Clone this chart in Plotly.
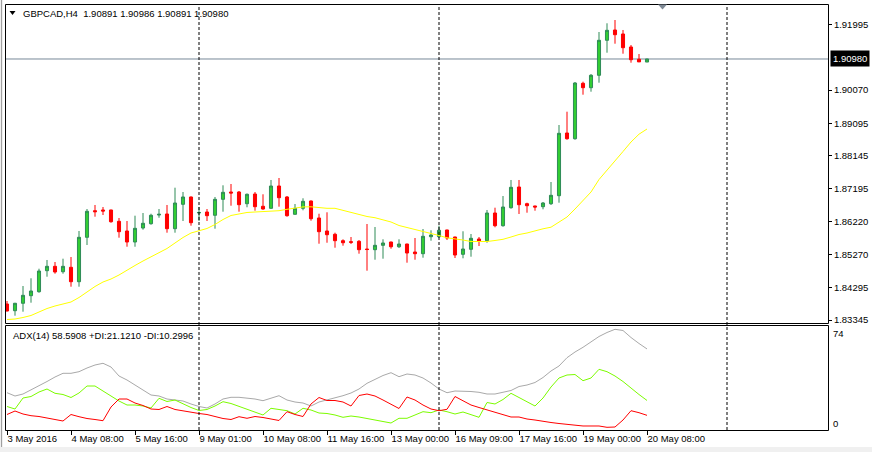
import plotly.graph_objects as go

W, H = 872, 452

# ---------------- data ----------------
tick_labels = ["3 May 2016", "4 May 08:00", "5 May 16:00", "9 May 01:00", "10 May 08:00",
               "11 May 16:00", "13 May 00:00", "16 May 09:00", "17 May 16:00",
               "19 May 00:00", "20 May 08:00"]
tick_bars = [0, 8, 16, 24, 32, 40, 48, 56, 64, 72, 80]
separator_bars = [24, 54, 90]

opens = [1.83816, 1.83620, 1.83837, 1.84059, 1.84176, 1.84790, 1.84918, 1.84760, 1.84889, 1.84468,
         1.85766, 1.86544, 1.86565, 1.86565, 1.86234, 1.85951, 1.85629, 1.86038, 1.86164, 1.86418,
         1.86448, 1.86018, 1.86731, 1.86945, 1.86477, 1.86506, 1.86410, 1.86877, 1.87091, 1.87091,
         1.86749, 1.87032, 1.86673, 1.86614, 1.87266, 1.86945, 1.86439, 1.86614, 1.86828, 1.86331,
         1.85951, 1.85854, 1.85667, 1.85638, 1.85649, 1.85424, 1.85404, 1.85532, 1.85629, 1.85491,
         1.85570, 1.85336, 1.85287, 1.85784, 1.85784, 1.85980, 1.85775, 1.85269, 1.85416, 1.85717,
         1.85667, 1.86477, 1.86106, 1.86632, 1.87237, 1.86749, 1.86682, 1.86661, 1.86749, 1.86983,
         1.88816, 1.88649, 1.90269, 1.90141, 1.90503, 1.91527, 1.91828, 1.91711, 1.91331, 1.90971,
         1.90891]
highs = [1.83904, 1.83850, 1.84342, 1.84568, 1.84848, 1.85103, 1.85044, 1.85141, 1.85190, 1.85951,
         1.86594, 1.86711, 1.86652, 1.86573, 1.86331, 1.86243, 1.86398, 1.86477, 1.86456, 1.86594,
         1.86711, 1.87217, 1.87091, 1.86959, 1.86652, 1.86594, 1.86945, 1.87287, 1.87325, 1.87120,
         1.87047, 1.87091, 1.87024, 1.87442, 1.87500, 1.86974, 1.86740, 1.86907, 1.86842, 1.86456,
         1.86497, 1.85901, 1.85708, 1.85775, 1.85687, 1.86155, 1.86068, 1.85708, 1.85638, 1.85708,
         1.85579, 1.85746, 1.86009, 1.85971, 1.86106, 1.85989, 1.85784, 1.85942, 1.85863, 1.85775,
         1.86565, 1.86632, 1.86974, 1.87442, 1.87442, 1.86778, 1.86690, 1.86799, 1.87383, 1.89050,
         1.89439, 1.90307, 1.90316, 1.90541, 1.91769, 1.92024, 1.92120, 1.91828, 1.91389, 1.91126,
         1.90986]
lows = [1.83600, 1.83474, 1.83591, 1.83854, 1.84146, 1.84614, 1.84702, 1.84702, 1.84322, 1.84322,
        1.85541, 1.86369, 1.86418, 1.86193, 1.85755, 1.85491, 1.85491, 1.85989, 1.86135, 1.86339,
        1.85901, 1.85901, 1.86243, 1.86106, 1.86243, 1.86243, 1.86018, 1.86515, 1.86690, 1.86515,
        1.86644, 1.86544, 1.86573, 1.86603, 1.86661, 1.86369, 1.86427, 1.86556, 1.86252, 1.85579,
        1.85608, 1.85462, 1.85521, 1.85570, 1.85287, 1.84790, 1.85111, 1.85141, 1.85433, 1.85453,
        1.85024, 1.85111, 1.85170, 1.85667, 1.85746, 1.85687, 1.85161, 1.85152, 1.85199, 1.85512,
        1.85608, 1.86059, 1.86076, 1.86603, 1.86448, 1.86486, 1.86544, 1.86585, 1.86711, 1.86778,
        1.88620, 1.88620, 1.89936, 1.90024, 1.90287, 1.91164, 1.91427, 1.91135, 1.90872, 1.90895,
        1.90891]
closes = [1.83611, 1.83837, 1.84070, 1.84196, 1.84781, 1.84918, 1.84752, 1.84918, 1.84468, 1.85766,
          1.86527, 1.86515, 1.86535, 1.86222, 1.85930, 1.85629, 1.86029, 1.86176, 1.86410, 1.86439,
          1.86018, 1.86769, 1.86945, 1.86193, 1.86492, 1.86398, 1.86877, 1.87082, 1.87062, 1.86720,
          1.87024, 1.86661, 1.86594, 1.87266, 1.86924, 1.86398, 1.86614, 1.86819, 1.86310, 1.85930,
          1.85842, 1.85667, 1.85608, 1.85620, 1.85404, 1.85409, 1.85532, 1.85600, 1.85491, 1.85570,
          1.85307, 1.85287, 1.85796, 1.85834, 1.85971, 1.85746, 1.85249, 1.85424, 1.85737, 1.85658,
          1.86477, 1.86106, 1.86652, 1.87228, 1.86720, 1.86690, 1.86652, 1.86769, 1.86994, 1.88807,
          1.88649, 1.90278, 1.90141, 1.90503, 1.91527, 1.91819, 1.91690, 1.91310, 1.90959, 1.90895,
          1.90980]
moving_avg = [1.83363, 1.83377, 1.83421, 1.83480, 1.83582, 1.83684, 1.83758, 1.83816, 1.83875, 1.84006,
              1.84167, 1.84328, 1.84459, 1.84547, 1.84664, 1.84810, 1.84942, 1.85073, 1.85190, 1.85322,
              1.85439, 1.85600, 1.85760, 1.85892, 1.85951, 1.86024, 1.86141, 1.86287, 1.86404, 1.86448,
              1.86492, 1.86506, 1.86515, 1.86521, 1.86544, 1.86585, 1.86623, 1.86655, 1.86658, 1.86632,
              1.86614, 1.86614, 1.86550, 1.86506, 1.86433, 1.86375, 1.86339, 1.86287, 1.86214, 1.86111,
              1.86053, 1.86009, 1.85936, 1.85892, 1.85819, 1.85752, 1.85725, 1.85687, 1.85643, 1.85638,
              1.85643, 1.85673, 1.85708, 1.85775, 1.85848, 1.85892, 1.85965, 1.86015, 1.86062, 1.86208,
              1.86360, 1.86594, 1.86857, 1.87091, 1.87456, 1.87720, 1.87997, 1.88275, 1.88553, 1.88781,
              1.88933]
adx = [26.76, 24.36, 25.82, 28.73, 31.64, 34.91, 38.18, 40.87, 40.87, 42.04,
       44.73, 46.91, 48.15, 45.45, 38.91, 36.00, 32.36, 28.73, 25.09, 24.36,
       22.18, 21.45, 20.73, 18.55, 16.73, 15.64, 18.55, 22.18, 23.42, 23.42,
       22.91, 22.18, 20.95, 22.91, 24.58, 21.45, 20.00, 19.27, 17.09, 20.00,
       21.45, 22.91, 24.58, 26.55, 29.45, 33.60, 36.73, 39.27, 41.31, 38.40,
       40.36, 39.64, 37.45, 33.82, 29.45, 26.76, 28.00, 28.00, 27.64, 27.05,
       25.82, 25.82, 26.91, 28.36, 31.27, 32.36, 34.18, 37.82, 42.55, 46.18,
       52.22, 56.36, 59.78, 63.85, 67.64, 70.55, 72.87, 72.00, 66.91, 62.55,
       58.59]
plus_di = [16.73, 14.91, 22.91, 24.00, 27.27, 29.45, 26.33, 25.45, 23.27, 26.55,
           31.64, 31.64, 28.00, 24.36, 20.73, 17.82, 17.82, 17.09, 15.64, 22.69,
           20.36, 21.45, 18.55, 16.00, 13.82, 14.55, 17.09, 20.22, 18.91, 16.73,
           14.69, 12.73, 10.55, 15.42, 14.55, 13.67, 11.27, 15.42, 14.18, 12.00,
           11.64, 10.55, 8.87, 9.82, 9.09, 8.00, 6.91, 5.82, 4.73, 8.15,
           8.15, 10.55, 12.95, 12.22, 14.18, 12.95, 11.27, 12.73, 11.05, 8.87,
           19.64, 18.55, 21.82, 26.33, 23.27, 20.22, 17.09, 22.91, 30.91, 37.45,
           39.64, 40.00, 35.49, 37.45, 43.78, 42.04, 38.91, 34.91, 29.96, 25.45,
           21.12]
minus_di = [10.91, 13.45, 11.27, 10.04, 9.45, 8.15, 7.27, 6.18, 10.91, 9.31,
            8.00, 7.27, 6.40, 16.36, 22.18, 22.18, 19.27, 17.45, 14.91, 14.55,
            16.73, 14.55, 13.45, 12.36, 11.64, 10.91, 9.45, 8.00, 7.27, 9.31,
            8.15, 9.45, 8.73, 7.64, 6.55, 12.95, 10.91, 9.45, 18.55, 23.27,
            21.09, 21.09, 20.00, 17.09, 24.73, 25.82, 24.36, 21.45, 18.55, 15.27,
            23.64, 21.45, 17.82, 14.91, 13.67, 14.69, 24.00, 20.95, 17.82, 16.00,
            14.18, 12.73, 10.91, 9.09, 9.09, 7.64, 6.91, 5.82, 5.09, 4.36,
            3.78, 3.27, 2.55, 2.55, 2.55, 1.60, 1.82, 6.91, 13.67, 12.22,
            10.30]
price_ticks = [1.91995, 1.90070, 1.89095, 1.88145, 1.87195, 1.86220, 1.85270, 1.84295, 1.83345]
last_price = 1.90980
header_text = "GBPCAD,H4&nbsp; 1.90891 1.90986 1.90891 1.90980"
adx_text = "ADX(14) 58.5908 +DI:21.1210 -DI:10.2996"
adx_levels = [74, 0]

# ---------------- layout helpers ----------------
FONT = "Liberation Sans, Arial, sans-serif"
FS = 9.5


def fx(px):
    return px / W


def fy(py):
    return 1 - py / H


# pixel calibration of the two panels
P0, PSCALE = 1.92705, 3420.0      # price at pixel row 0, pixels per price unit
A0, ASCALE = 429.5, 1.375          # pixel row of ADX zero, pixels per ADX unit
X_LEFT, X_RIGHT = 6, 828
MAIN_TOP, MAIN_BOT = 5, 323
SUB_TOP, SUB_BOT = 326, 430
BAR0_PX, BAR_PX = 7, 8

bars = list(range(len(opens)))

fig = go.Figure()
fig.add_trace(go.Candlestick(
    x=bars, open=opens, high=highs, low=lows, close=closes,
    increasing=dict(line=dict(color="#2E8B57", width=1), fillcolor="#32CD32"),
    decreasing=dict(line=dict(color="#FF0000", width=1), fillcolor="#FF0000"),
    whiskerwidth=0, hoverinfo="skip", showlegend=False, xaxis="x", yaxis="y"))
fig.add_trace(go.Scatter(x=bars, y=moving_avg, mode="lines",
                         line=dict(color="#FFFF00", width=1), hoverinfo="skip",
                         showlegend=False, xaxis="x", yaxis="y"))
fig.add_trace(go.Scatter(x=bars, y=adx, mode="lines",
                         line=dict(color="#A9A9A9", width=1), hoverinfo="skip",
                         showlegend=False, xaxis="x", yaxis="y2"))
fig.add_trace(go.Scatter(x=bars, y=plus_di, mode="lines",
                         line=dict(color="#7CFC00", width=1), hoverinfo="skip",
                         showlegend=False, xaxis="x", yaxis="y2"))
fig.add_trace(go.Scatter(x=bars, y=minus_di, mode="lines",
                         line=dict(color="#FF0000", width=1), hoverinfo="skip",
                         showlegend=False, xaxis="x", yaxis="y2"))

shapes = []
# current price line
shapes.append(dict(type="line", xref="paper", yref="y", x0=fx(X_LEFT), x1=fx(X_RIGHT),
                   y0=last_price, y1=last_price, line=dict(color="#778899", width=1), layer="below"))
# period separators
for b in separator_bars:
    shapes.append(dict(type="line", xref="x", yref="paper", x0=b, x1=b,
                       y0=fy(SUB_BOT), y1=fy(MAIN_TOP),
                       line=dict(color="#000000", width=1, dash="3px,2px")))
# frames
shapes.append(dict(type="rect", xref="paper", yref="paper", x0=fx(5.5), x1=fx(828.5),
                   y0=fy(323.5), y1=fy(4.5), line=dict(color="#000000", width=1)))
shapes.append(dict(type="rect", xref="paper", yref="paper", x0=fx(5.5), x1=fx(828.5),
                   y0=fy(430.5), y1=fy(325.5), line=dict(color="#000000", width=1)))
# window border (left and bottom)
shapes.append(dict(type="rect", xref="paper", yref="paper", x0=0, x1=fx(3),
                   y0=0, y1=1, fillcolor="#F0F0F0", line=dict(width=0)))
shapes.append(dict(type="line", xref="paper", yref="paper", x0=fx(1.5), x1=fx(1.5),
                   y0=0, y1=1, line=dict(color="#A0A0A0", width=1)))
shapes.append(dict(type="rect", xref="paper", yref="paper", x0=0, x1=1,
                   y0=0, y1=fy(447), fillcolor="#F0F0F0", line=dict(width=0)))
# chart-shift marker and header triangle
shapes.append(dict(type="path", xref="paper", yref="paper",
                   path=f"M {fx(658)} {fy(4.5)} L {fx(667)} {fy(4.5)} L {fx(662.5)} {fy(9.5)} Z",
                   fillcolor="#7F8A96", line=dict(width=0)))
shapes.append(dict(type="path", xref="paper", yref="paper",
                   path=f"M {fx(9.5)} {fy(11)} L {fx(15.5)} {fy(11)} L {fx(12.5)} {fy(15)} Z",
                   fillcolor="#000000", line=dict(width=0)))

annotations = [
    dict(text=header_text, xref="paper", yref="paper", x=fx(20.5), y=fy(13.5),
         xanchor="left", yanchor="middle", showarrow=False,
         font=dict(family=FONT, size=FS, color="#000000")),
    dict(text=adx_text, xref="paper", yref="paper", x=fx(10.5), y=fy(335),
         xanchor="left", yanchor="middle", showarrow=False,
         font=dict(family=FONT, size=FS, color="#000000")),
    dict(text=f"{last_price:.5f}", xref="paper", yref="y", x=fx(829.5), y=last_price,
         xanchor="left", yanchor="middle", showarrow=False, bgcolor="#000000",
         borderpad=2, font=dict(family=FONT, size=FS, color="#FFFFFF")),
]
for lvl, shift in zip(adx_levels, [-5.5, 6]):
    annotations.append(dict(text=str(lvl), xref="paper", yref="y2", x=fx(831), y=lvl,
                            yshift=shift, xanchor="left", yanchor="middle", showarrow=False,
                            font=dict(family=FONT, size=FS, color="#000000")))

x_range = [(X_LEFT - BAR0_PX) / BAR_PX, (X_RIGHT - BAR0_PX) / BAR_PX]

fig.update_layout(
    width=W, height=H,
    margin=dict(l=0, r=0, t=0, b=0, pad=0, autoexpand=False),
    paper_bgcolor="#FFFFFF", plot_bgcolor="#FFFFFF",
    showlegend=False, boxgap=0.45, hovermode=False,
    font=dict(family=FONT, size=FS, color="#000000"),
    xaxis=dict(domain=[fx(X_LEFT), fx(X_RIGHT)], range=x_range, anchor="y2",
               tickmode="array", tickvals=tick_bars, ticktext=tick_labels,
               ticks="outside", ticklen=4, tickcolor="#000000", tickwidth=1,
               ticklabelposition="outside right", tickangle=0, automargin=False,
               showgrid=False, zeroline=False, showline=False,
               rangeslider=dict(visible=False), fixedrange=True,
               tickfont=dict(family=FONT, size=FS, color="#000000")),
    yaxis=dict(domain=[fy(MAIN_BOT), fy(MAIN_TOP)],
               range=[P0 - MAIN_BOT / PSCALE, P0 - MAIN_TOP / PSCALE],
               side="right", anchor="x", tickmode="array", tickvals=price_ticks,
               ticktext=[f"{v:.5f}" for v in price_ticks], automargin=False,
               ticks="outside", ticklen=3, tickcolor="#000000", tickwidth=1,
               showgrid=False, zeroline=False, showline=False, fixedrange=True,
               tickfont=dict(family=FONT, size=FS, color="#000000")),
    yaxis2=dict(domain=[fy(SUB_BOT), fy(SUB_TOP)],
                range=[(A0 - SUB_BOT) / ASCALE, (A0 - SUB_TOP) / ASCALE],
                side="right", anchor="x", showticklabels=False, ticks="",
                automargin=False,
                showgrid=False, zeroline=False, showline=False, fixedrange=True),
    shapes=shapes, annotations=annotations,
)

fig.write_html("out.html")
